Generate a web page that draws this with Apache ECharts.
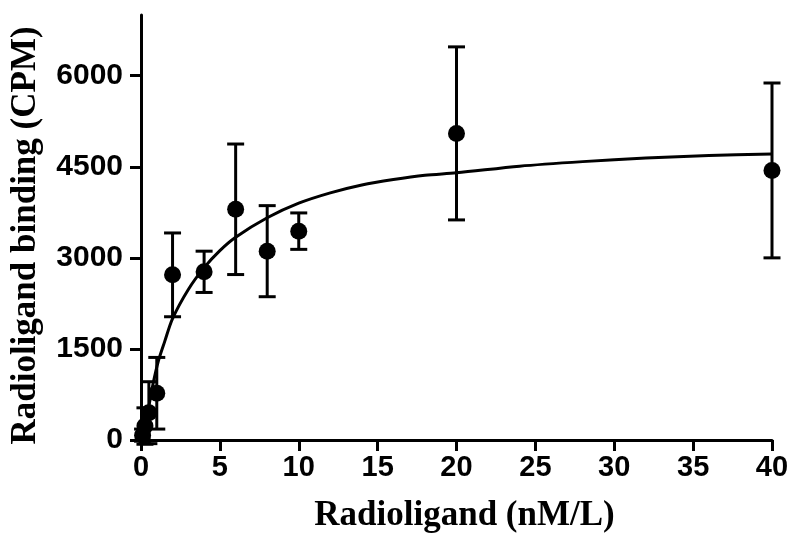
<!DOCTYPE html>
<html>
<head>
<meta charset="utf-8">
<script src="https://cdn.jsdelivr.net/npm/echarts@6/dist/echarts.min.js"></script>
<style>
html,body{margin:0;padding:0;background:#fff;}
#chart{width:800px;height:546px;}
</style>
</head>
<body>
<div id="chart"></div>
<script>
// Measured points (concentration, mean binding, error)
var concentrations = [0.1, 0.25, 0.5, 1, 2, 4, 6, 8, 10, 20, 40];
var bindingMeans   = [80, 230, 450, 770, 2720, 2770, 3800, 3110, 3440, 5050, 4440];
var bindingErrors  = [100, 300, 510, 590, 690, 340, 1075, 750, 300, 1425, 1440];

// Fitted saturation curve
var curveX = [0, 0.2, 0.5, 0.8, 1.1, 1.5, 2, 3, 4, 5, 6, 8, 10, 12, 14, 16, 18, 20, 24, 28, 32, 36, 40];
var curveY = [0, 150, 560, 970, 1300, 1620, 2000, 2480, 2840, 3120, 3340, 3660, 3900, 4070, 4200, 4290, 4360, 4400, 4510, 4585, 4645, 4685, 4712];

var yTicks = [0, 1500, 3000, 4500, 6000];
var xTicks = [0, 5, 10, 15, 20, 25, 30, 35, 40];

var xTitle = 'Radioligand (nM/L)';
var yTitle = 'Radioligand binding (CPM)';

var pointData = concentrations.map(function (x, i) { return [x, bindingMeans[i]]; });
var errData = concentrations.map(function (x, i) {
  return [x, bindingMeans[i] - bindingErrors[i], bindingMeans[i] + bindingErrors[i]];
});
var curveData = curveX.map(function (x, i) { return [x, curveY[i]]; });

var chart = echarts.init(document.getElementById('chart'), null, {renderer: 'canvas'});
chart.setOption({
  animation: false,
  backgroundColor: '#fff',
  grid: {left: 140, right: 28, top: 15, bottom: 106},
  xAxis: {
    type: 'value', min: 0, max: 40, interval: 5,
    axisLine: {show: true, lineStyle: {color: '#000', width: 3}},
    axisTick: {show: true, length: 11, lineStyle: {color: '#000', width: 3}, customValues: xTicks},
    axisLabel: {customValues: xTicks, color: '#000', fontSize: 29, fontWeight: 'bold', fontFamily: 'Liberation Sans, Arial, sans-serif', margin: 13,
      formatter: function (v) { return String(v); }},
    splitLine: {show: false},
    name: xTitle, nameLocation: 'middle', nameGap: 58,
    nameTextStyle: {color: '#000', fontSize: 35, fontWeight: 'bold', fontFamily: 'Liberation Serif, Times New Roman, serif', padding: [0, 0, 0, 16]}
  },
  yAxis: {
    type: 'value', min: 0, max: 7000,
    axisLine: {show: true, lineStyle: {color: '#000', width: 3}},
    axisTick: {show: true, length: 11, lineStyle: {color: '#000', width: 3}, customValues: yTicks},
    axisLabel: {customValues: yTicks, color: '#000', fontSize: 30, fontWeight: 'bold', fontFamily: 'Liberation Sans, Arial, sans-serif', margin: 18,
      formatter: function (v) { return String(v); }},
    splitLine: {show: false},
    name: yTitle, nameLocation: 'middle', nameGap: 98,
    nameTextStyle: {color: '#000', fontSize: 35, fontWeight: 'bold', fontFamily: 'Liberation Serif, Times New Roman, serif', padding: [0, 16, 0, 0]}
  },
  series: [
    {
      type: 'line', data: curveData, smooth: 0.3, showSymbol: false, symbol: 'none',
      lineStyle: {color: '#000', width: 3}, z: 2
    },
    {
      type: 'custom', data: errData, z: 3,
      renderItem: function (params, api) {
        var x = api.value(0);
        var lo = api.coord([x, api.value(1)]);
        var hi = api.coord([x, api.value(2)]);
        var hw = 8.5;
        var st = {stroke: '#000', lineWidth: 3};
        return {
          type: 'group',
          children: [
            {type: 'line', shape: {x1: lo[0], y1: lo[1], x2: hi[0], y2: hi[1]}, style: st},
            {type: 'line', shape: {x1: hi[0] - hw, y1: hi[1], x2: hi[0] + hw, y2: hi[1]}, style: st},
            {type: 'line', shape: {x1: lo[0] - hw, y1: lo[1], x2: lo[0] + hw, y2: lo[1]}, style: st}
          ]
        };
      }
    },
    {
      type: 'scatter', data: pointData, symbol: 'circle', symbolSize: 17,
      itemStyle: {color: '#000', opacity: 1}, z: 4
    }
  ]
});
</script>
</body>
</html>
